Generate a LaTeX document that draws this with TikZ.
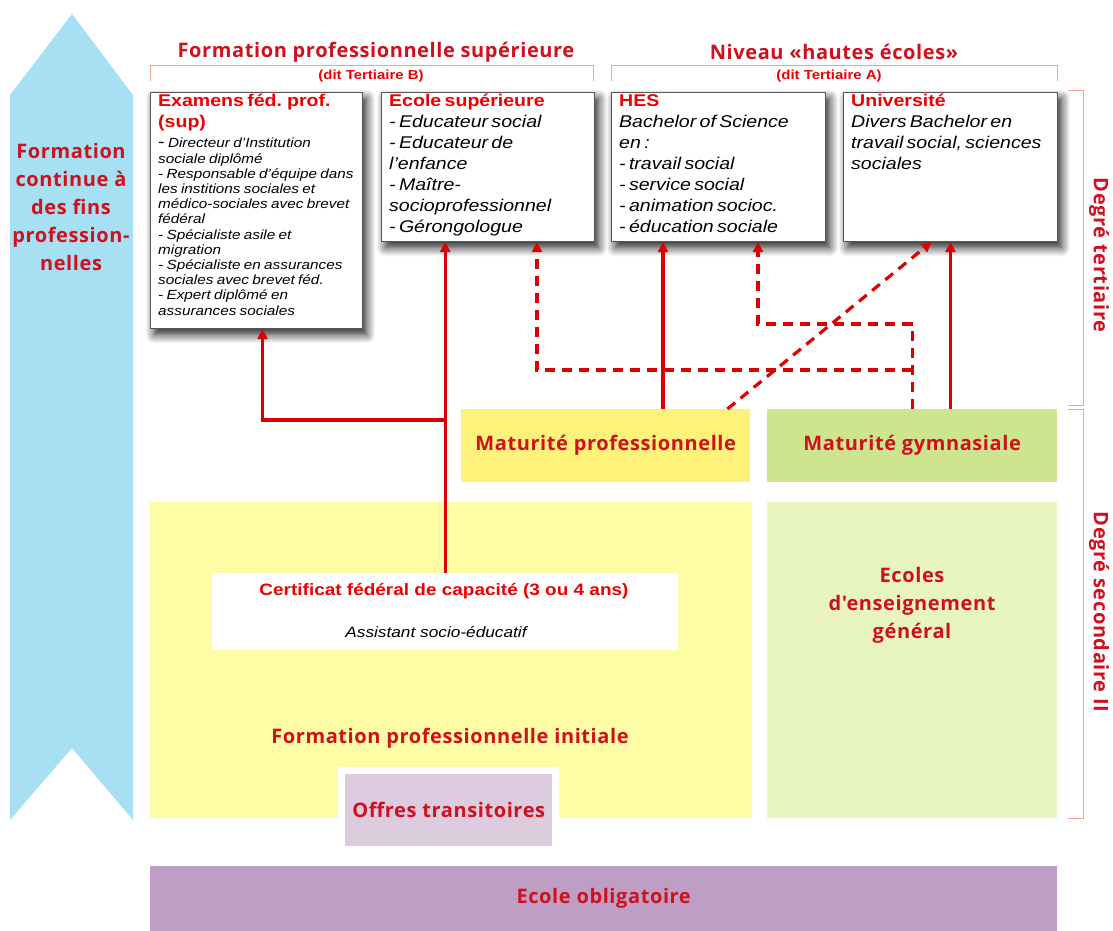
\documentclass[tikz,border=0pt]{standalone}
\usepackage{fontspec}
\setmainfont{Liberation Sans}[FakeStretch=1.15]
\newfontfamily\gill{Open Sans}[LetterSpace=3]
\usetikzlibrary{arrows.meta}
\usetikzlibrary{shadows.blur}
\definecolor{skyarrow}{HTML}{A6E0F2}
\definecolor{headred}{HTML}{D0101C}
\definecolor{boxred}{HTML}{EE0000}
\definecolor{linered}{HTML}{DD0000}
\definecolor{brackpink}{HTML}{F4A0A0}
\definecolor{matyellow}{HTML}{FFF27A}
\definecolor{fpiyellow}{HTML}{FFFCA6}
\definecolor{matgreen}{HTML}{CDE58F}
\definecolor{eeggreen}{HTML}{E9F5C1}
\definecolor{offpurple}{HTML}{DDCBE0}
\definecolor{oblpurple}{HTML}{BF9EC5}
\definecolor{boxgray}{HTML}{555555}
\newcommand*{\gillhead}{\gill\bfseries\fontsize{20}{28}\selectfont}
\newcommand*{\boxhead}{\bfseries\fontsize{17}{21}\selectfont\color{boxred}}
\newcommand*{\boxbody}{\itshape\fontsize{17}{21}\selectfont}

\begin{document}
\begin{tikzpicture}[x=1pt, y=-1pt,
    heading/.style={text=headred, font=\gillhead, align=center, inner sep=0pt},
    bracket/.style={draw=brackpink, line width=0.8pt},
    box/.style={draw=boxgray, fill=white, line width=1pt, anchor=north west,
        blur shadow={shadow xshift=4pt, shadow yshift=-6pt, shadow opacity=90, shadow blur radius=9pt, shadow blur steps=12}},
    boxtext/.style={anchor=north west, align=left, inner sep=0pt},
    area/.style={anchor=north west, inner sep=0pt, draw=none},
    arr/.style={draw=linered, line width=3.2pt, -{Triangle[length=10pt, width=10pt]}},
    arrd/.style={arr, dash pattern=on 10pt off 7pt}]
    \useasboundingbox (0,0) rectangle (1113,931);
    % left arrow
    \fill [skyarrow] (10,95) -- (72,14) -- (133,95) -- (133,820) -- (72,748) -- (10,820) -- cycle;
    \node [heading] (fcont) at (71,207) {Formation\\continue à\\des fins\\profession-\\nelles};
    % headings
    \node [heading] (fps) at (376,52) {Formation professionnelle supérieure};
    \node [heading] (hautes) at (834,52) {Niveau «hautes écoles»};
    \draw [bracket] (150,81) -- (150,65) -- (593,65) -- (593,81);
    \draw [bracket] (611,81) -- (611,65) -- (1057,65) -- (1057,81);
    \node [text=boxred, font=\bfseries\fontsize{13}{15}\selectfont] (terb) at (371,76) {(dit Tertiaire B)};
    \node [text=boxred, font=\bfseries\fontsize{13}{15}\selectfont] (tera) at (829,76) {(dit Tertiaire A)};
    \draw [bracket] (1068,90) -- (1083,90) -- (1083,405) -- (1068,405);
    \draw [bracket] (1068,409) -- (1083,409) -- (1083,818) -- (1068,818);
    \node [heading, rotate=-90] (tert) at (1099,255) {Degré tertiaire};
    \node [heading, rotate=-90] (sec) at (1099,612) {Degré secondaire II};
    % secondaire
    \node [area, fill=matyellow, minimum width=289, minimum height=73] (matpro) at (461,409) {};
    \node [area, fill=matgreen, minimum width=290, minimum height=73] (matgym) at (767,409) {};
    \node [area, fill=fpiyellow, minimum width=602, minimum height=316] (fpi) at (150,502) {};
    \node [area, fill=eeggreen, minimum width=290, minimum height=316] (eeg) at (767,502) {};
    \node [area, fill=white, minimum width=466, minimum height=77] (cfc) at (212,573) {};
    \node [area, fill=white, minimum width=221, minimum height=80] (offw) at (338,767) {};
    \node [area, fill=offpurple, minimum width=207, minimum height=72] (off) at (345,774) {};
    \node [area, fill=oblpurple, minimum width=907, minimum height=65] (obl) at (150,866) {};
    \node [heading] at (matpro) {Maturité professionnelle};
    \node [heading] at (matgym) {Maturité gymnasiale};
    \node [heading] at (912,605) {Ecoles\\d'enseignement\\général};
    \node [heading] at (450,738) {Formation professionnelle initiale};
    \node [heading] at (off) {Offres transitoires};
    \node [heading] at (obl) {Ecole obligatoire};
    \node [text=boxred, font=\bfseries\fontsize{16.5}{18}\selectfont] at (444,591) {Certificat fédéral de capacité (3 ou 4 ans)};
    \node [font=\itshape\fontsize{15}{18}\selectfont] at (436,632) {Assistant socio-éducatif};
    % tertiaire
    \node [box, minimum width=212, minimum height=236] (exam) at (150,92) {};
    \node [box, minimum width=213, minimum height=149] (ecole) at (381,92) {};
    \node [box, minimum width=214, minimum height=149] (hes) at (611,92) {};
    \node [box, minimum width=214, minimum height=149] (uni) at (843,92) {};
    \node [boxtext, text width=205] at ([shift={(8,2)}]exam.north west)
        {{\boxhead Examens féd. prof.\\(sup)\par}\vspace{5pt}
         {\fontsize{13.3}{15.2}\selectfont {\fontsize{17}{15}\selectfont -} \itshape Directeur d'Institution\\sociale diplômé\\- Responsable d'équipe dans\\les institions sociales et\\médico-sociales avec brevet\\fédéral\\- Spécialiste asile et\\migration\\- Spécialiste en assurances\\sociales avec brevet féd.\\- Expert diplômé en\\assurances sociales\par}};
    \node [boxtext, text width=205] at ([shift={(8,2)}]ecole.north west)
        {{\boxhead Ecole supérieure\par}
         {\boxbody - Educateur social\\- Educateur de\\l'enfance\\- Maître-\\socioprofessionnel\\- Gérongologue\par}};
    \node [boxtext, text width=205] at ([shift={(8,2)}]hes.north west)
        {{\boxhead HES\par}
         {\boxbody Bachelor of Science\\en :\\- travail social\\- service social\\- animation socioc.\\- éducation sociale\par}};
    \node [boxtext, text width=205] at ([shift={(8,2)}]uni.north west)
        {{\boxhead Université\par}
         {\boxbody Divers Bachelor en\\travail social, sciences\\sociales\par}};
    % connectors
    \coordinate (fork) at (445,420);
    \coordinate (hesx) at (663,0);
    \coordinate (hesd) at (758,0);
    \coordinate (ecd) at (537,0);
    \draw [arr] (cfc.north) -- (cfc.north |- ecole.south);
    \draw [arr] (fork) -| ([xshift=6pt]exam.south);
    \draw [arr] (matpro.north -| hesx) -- (hes.south -| hesx);
    \draw [arr] (matgym.north -| uni.south) -- (uni.south);
    \draw [arrd] (matgym.north) |- (912,324) -| (hes.south -| hesd);
    \draw [arrd] (912,370) -| (ecole.south -| ecd);
    \draw [arrd] ([xshift=-23pt]matpro.north east) -- ([xshift=-19pt]uni.south);
\end{tikzpicture}
\end{document}
